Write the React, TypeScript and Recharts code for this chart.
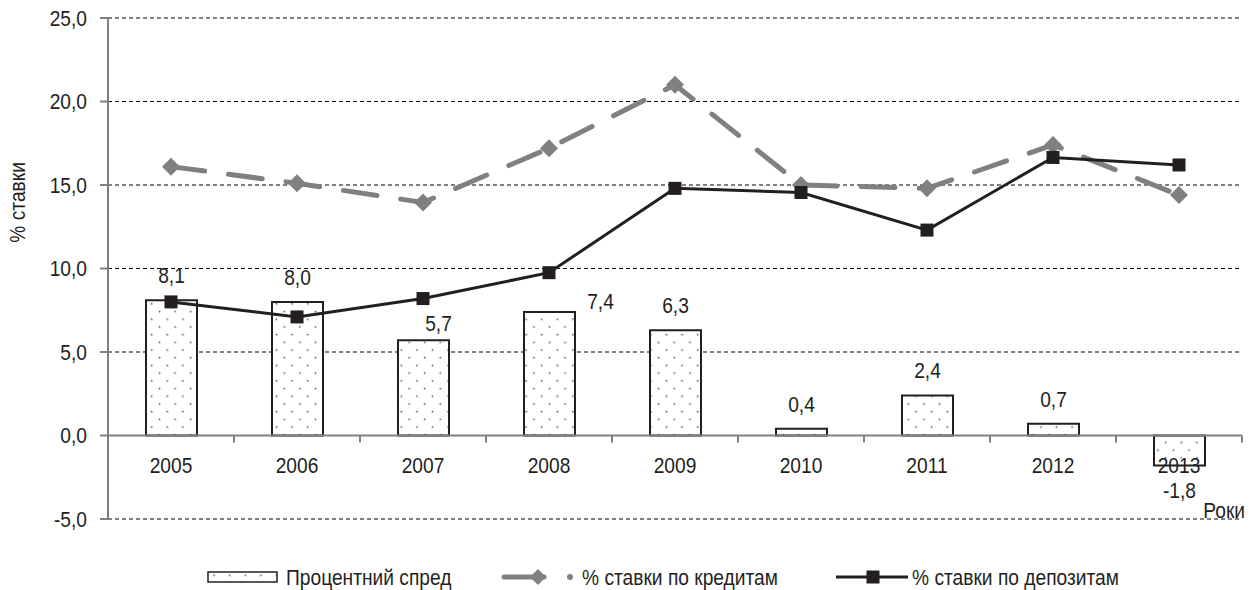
import React from 'react';
import {
  ComposedChart,
  Bar,
  Line,
  XAxis,
  YAxis,
  CartesianGrid,
  ReferenceLine,
  LabelList,
  Legend,
  Label,
} from 'recharts';

// ---------- data ----------
const years = ['2005', '2006', '2007', '2008', '2009', '2010', '2011', '2012', '2013'];
const spread = [8.1, 8.0, 5.7, 7.4, 6.3, 0.4, 2.4, 0.7, -1.8];
const creditRates = [16.1, 15.1, 13.95, 17.2, 21.0, 15.0, 14.8, 17.4, 14.4];
const depositRates = [8.0, 7.1, 8.2, 9.75, 14.8, 14.55, 12.3, 16.65, 16.2];
const yTicks = [-5, 0, 5, 10, 15, 20, 25];
const seriesNames = ['Процентний спред', '% ставки по кредитам', '% ставки по депозитам'];
const yAxisTitle = '% ставки';
const xAxisTitle = 'Роки';

const data = years.map((year, i) => ({
  year,
  spread: spread[i],
  credit: creditRates[i],
  deposit: depositRates[i],
}));

// ---------- layout / style ----------
const W = 1249;
const H = 590;
const MARGIN = { top: 18, right: 7, left: 48, bottom: 51 };
const Y_AXIS_W = 60;
const X_AXIS_H = 20;
const PLOT_LEFT = MARGIN.left + Y_AXIS_W;
const PLOT_TOP = MARGIN.top;
const PLOT_W = W - PLOT_LEFT - MARGIN.right;
const PLOT_H = H - MARGIN.top - MARGIN.bottom - X_AXIS_H;
const Y_MIN = -5;
const Y_MAX = 25;
const Y_ZERO = PLOT_TOP + (PLOT_H * (Y_MAX - 0)) / (Y_MAX - Y_MIN);
const BAND = PLOT_W / years.length;

const FONT = '"Liberation Sans", Arial, sans-serif';
const FS = 19.2;
const STRETCH = 1.14;
const INK = '#231f20';
const GREY = '#808080';

const fmt = (v: number) => v.toFixed(1).replace('.', ',');

// nudges for bar-value labels (style, like Excel's manual label placement)
const LABEL_NUDGE: Record<number, [number, number]> = {
  2: [15, 7.5],
  3: [51, 14],
};

// vertically stretched text (the reference font is taller than Arial)
const T = ({
  x,
  y,
  anchor = 'middle',
  central = false,
  rotate = 0,
  children,
}: {
  x: number;
  y: number;
  anchor?: 'start' | 'middle' | 'end';
  central?: boolean;
  rotate?: number;
  children: React.ReactNode;
}) => (
  <text
    transform={`translate(${x},${y}) rotate(${rotate}) scale(1,${STRETCH})`}
    x={0}
    y={0}
    textAnchor={anchor}
    dominantBaseline={central ? 'central' : 'auto'}
    fontFamily={FONT}
    fontSize={FS}
    fill={INK}
  >
    {children}
  </text>
);

const DotPattern = ({ id }: { id: string }) => (
  <pattern id={id} patternUnits="userSpaceOnUse" width={15.6} height={15.4}>
    <rect x={0} y={0} width={15.6} height={15.4} fill="#ffffff" />
    <circle cx={3.5} cy={3.5} r={0.9} fill="#555" />
    <circle cx={11.3} cy={11.2} r={0.9} fill="#555" />
  </pattern>
);

const XTick = (props: any) => {
  const { x, index } = props;
  const label = years[index];
  const left = x - BAND / 2;
  const right = x + BAND / 2;
  return (
    <g>
      {index > 0 && (
        <line x1={left} x2={left} y1={Y_ZERO} y2={Y_ZERO + 7} stroke={GREY} strokeWidth={2} />
      )}
      {index === years.length - 1 && (
        <line x1={right} x2={right} y1={Y_ZERO} y2={Y_ZERO + 7} stroke={GREY} strokeWidth={2} />
      )}
      <T x={x} y={Y_ZERO + 30} central>
        {label}
      </T>
    </g>
  );
};

const YTick = (props: any) => {
  const { x, y, payload } = props;
  return (
    <T x={x} y={y} anchor="end" central>
      {fmt(payload.value)}
    </T>
  );
};

const BarValueLabel = (props: any) => {
  const { x, y, width, height, value, index } = props;
  const top = Math.min(y, y + height);
  const bottom = Math.max(y, y + height);
  const [dx, dy] = LABEL_NUDGE[index] || [0, 0];
  const cx = x + width / 2 + dx;
  const ty = value >= 0 ? top - 17 + dy : bottom + 32 + dy;
  return (
    <T x={cx} y={ty}>
      {fmt(value)}
    </T>
  );
};

const Diamond = (props: any) => {
  const { cx, cy } = props;
  if (cx == null || cy == null) return null;
  const r = 9;
  return (
    <path
      d={`M${cx},${cy - r} L${cx + r},${cy} L${cx},${cy + r} L${cx - r},${cy} Z`}
      fill={GREY}
      stroke="none"
    />
  );
};

const Square = (props: any) => {
  const { cx, cy } = props;
  if (cx == null || cy == null) return null;
  const s = 13;
  return <rect x={cx - s / 2} y={cy - s / 2} width={s} height={s} fill={INK} />;
};

const LEG_H = 26;
const LegendContent = () => {
  const c = LEG_H / 2;
  return (
    <svg width={W} height={LEG_H} style={{ display: 'block', overflow: 'visible' }}>
      <defs>
        <DotPattern id="legendDots" />
      </defs>
      {/* item 1 */}
      <rect x={208} y={c - 5} width={69} height={10} fill="url(#legendDots)" stroke={INK} strokeWidth={1.5} />
      <T x={286} y={c} anchor="start" central>
        {seriesNames[0]}
      </T>
      {/* item 2 */}
      <line x1={504} x2={544} y1={c} y2={c} stroke={GREY} strokeWidth={5} strokeLinecap="round" />
      <path d={`M538,${c - 8} L546,${c} L538,${c + 8} L530,${c} Z`} fill={GREY} />
      <circle cx={570} cy={c} r={3} fill={GREY} />
      <T x={582} y={c} anchor="start" central>
        {seriesNames[1]}
      </T>
      {/* item 3 */}
      <line x1={836} x2={908} y1={c} y2={c} stroke={INK} strokeWidth={3} />
      <rect x={873 - 6.5} y={c - 6.5} width={13} height={13} fill={INK} />
      <T x={912} y={c} anchor="start" central>
        {seriesNames[2]}
      </T>
    </svg>
  );
};

export default function App() {
  return (
    <div
      style={{
        position: 'absolute',
        left: 0,
        top: 0,
        width: W,
        height: H,
        background: '#fff',
        overflow: 'hidden',
      }}
    >
      <ComposedChart width={W} height={H} data={data} margin={MARGIN}>
        <defs>
          <DotPattern id="barDots" />
        </defs>
        <CartesianGrid vertical={false} stroke="#000" strokeDasharray="4 3" strokeWidth={1} />
        <XAxis
          dataKey="year"
          axisLine={false}
          tickLine={false}
          interval={0}
          height={X_AXIS_H}
          tick={<XTick />}
        >
          <Label
            content={(p: any) => {
              const vb = p.viewBox || {};
              return (
                <T x={vb.x + vb.width + 3} y={vb.y - 1} anchor="end">
                  {xAxisTitle}
                </T>
              );
            }}
          />
        </XAxis>
        <YAxis
          domain={[Y_MIN, Y_MAX]}
          ticks={yTicks}
          interval={0}
          width={Y_AXIS_W}
          axisLine={{ stroke: GREY, strokeWidth: 2 }}
          tickLine={{ stroke: GREY, strokeWidth: 2 }}
          tickSize={8}
          tickMargin={13}
          tick={<YTick />}
        >
          <Label
            content={(p: any) => {
              const vb = p.viewBox || {};
              const lx = vb.x - 31;
              const ly = vb.y + vb.height * 0.368;
              return (
                <T x={lx} y={ly} rotate={-90} central>
                  {yAxisTitle}
                </T>
              );
            }}
          />
        </YAxis>
        <Bar
          dataKey="spread"
          name={seriesNames[0]}
          barSize={51}
          fill="url(#barDots)"
          stroke={INK}
          strokeWidth={2}
          isAnimationActive={false}
        >
          <LabelList dataKey="spread" content={<BarValueLabel />} />
        </Bar>
        <ReferenceLine y={0} stroke={GREY} strokeWidth={2} />
        <Line
          dataKey="credit"
          name={seriesNames[1]}
          stroke={GREY}
          strokeWidth={5}
          strokeDasharray="34 24"
          strokeLinecap="round"
          dot={<Diamond />}
          activeDot={false}
          isAnimationActive={false}
        />
        <Line
          dataKey="deposit"
          name={seriesNames[2]}
          stroke={INK}
          strokeWidth={3}
          dot={<Square />}
          activeDot={false}
          isAnimationActive={false}
        />
        <Legend
          layout="vertical"
          align="center"
          verticalAlign="middle"
          content={<LegendContent />}
          wrapperStyle={{ left: 0, top: H - 13 - LEG_H / 2, width: W, height: LEG_H }}
        />
      </ComposedChart>
    </div>
  );
}
